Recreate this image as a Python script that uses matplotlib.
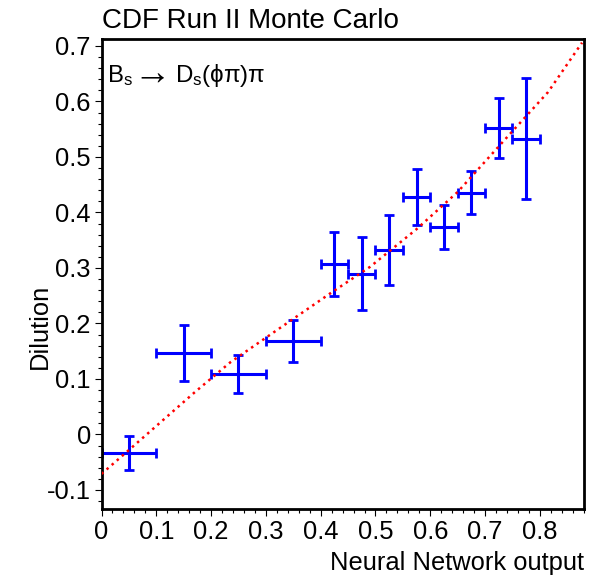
import matplotlib
matplotlib.use("Agg")
import matplotlib.pyplot as plt
from matplotlib.ticker import MultipleLocator, FuncFormatter

plt.rcParams["font.family"] = ["Liberation Sans", "DejaVu Sans"]
plt.rcParams["mathtext.fontset"] = "custom"
plt.rcParams["mathtext.rm"] = "Liberation Sans"
plt.rcParams["mathtext.it"] = "Liberation Sans:italic"
plt.rcParams["axes.unicode_minus"] = False

# ───── DATA ─────
nn_bin = [0.05, 0.15, 0.25, 0.35, 0.425, 0.475, 0.525, 0.575, 0.625, 0.675, 0.725, 0.775]
bin_half = [0.05, 0.05, 0.05, 0.05, 0.025, 0.025, 0.025, 0.025, 0.025, 0.025, 0.025, 0.025]
dilution = [-0.033, 0.147, 0.109, 0.168, 0.307, 0.290, 0.333, 0.428, 0.374, 0.436, 0.553, 0.533]
dilution_err = [0.031, 0.051, 0.035, 0.038, 0.057, 0.065, 0.063, 0.051, 0.040, 0.039, 0.054, 0.109]

# fitted curve
fit_x = [0.0, 0.05, 0.17, 0.235, 0.32, 0.42, 0.49, 0.575, 0.65, 0.745, 0.815, 0.877]
fit_y = [-0.071, -0.028, 0.076, 0.130, 0.188, 0.256, 0.302, 0.370, 0.437, 0.541, 0.617, 0.706]

# ───── FIGURE ─────
fig = plt.figure(figsize=(6.01, 5.77), dpi=100)
ax = fig.add_axes([0.1689, 0.1179, 0.8023, 0.8145])

ax.plot(fit_x, fit_y, color="red", lw=1.8, linestyle=(0, (1, 1.7)), zorder=3)
ax.errorbar(nn_bin, dilution, xerr=bin_half, yerr=dilution_err, fmt="none",
            ecolor="blue", elinewidth=2.2, capsize=3.5, capthick=2, zorder=2)

ax.set_xlim(0, 0.88)
ax.set_ylim(-0.1342, 0.7126)

ax.xaxis.set_major_locator(MultipleLocator(0.1))
ax.xaxis.set_minor_locator(MultipleLocator(0.02))
ax.yaxis.set_major_locator(MultipleLocator(0.1))
ax.yaxis.set_minor_locator(MultipleLocator(0.02))
fmt = FuncFormatter(lambda v, p: "0" if abs(v) < 1e-9 else f"{v:.1f}")
ax.xaxis.set_major_formatter(fmt)
ax.yaxis.set_major_formatter(fmt)

ax.tick_params(which="both", direction="out", top=False, right=False, width=0.8, labelsize=18.4)
ax.tick_params(which="major", length=4.7, pad=3)
ax.tick_params(which="minor", length=2.7)
for s in ax.spines.values():
    s.set_linewidth(2)

ax.set_xlabel("Neural Network output", fontsize=18.4, ha="right", va="baseline")
ax.xaxis.set_label_coords(1.0, -0.1298)
ax.set_ylabel("Dilution", fontsize=18.4, ha="center", va="baseline")
ax.yaxis.set_label_coords(-0.1137, 0.388)

ax.set_title("CDF Run II Monte Carlo", loc="left", fontsize=20, y=1.0228, va="baseline", pad=0)

# decay label: B_s -> D_s(phi pi) pi
ax.text(0.0108, 0.909, r"$\mathrm{B_s}$", transform=ax.transAxes,
        fontsize=17.2, ha="left", va="baseline")
ax.text(0.067, 0.926, "\u2192", transform=ax.transAxes,
        fontsize=27, ha="left", va="center")
ax.text(0.1525, 0.909, r"$\mathrm{D_s(\phi\pi)\pi}$", transform=ax.transAxes,
        fontsize=17.4, ha="left", va="baseline")

fig.savefig("out.png", dpi=100)
